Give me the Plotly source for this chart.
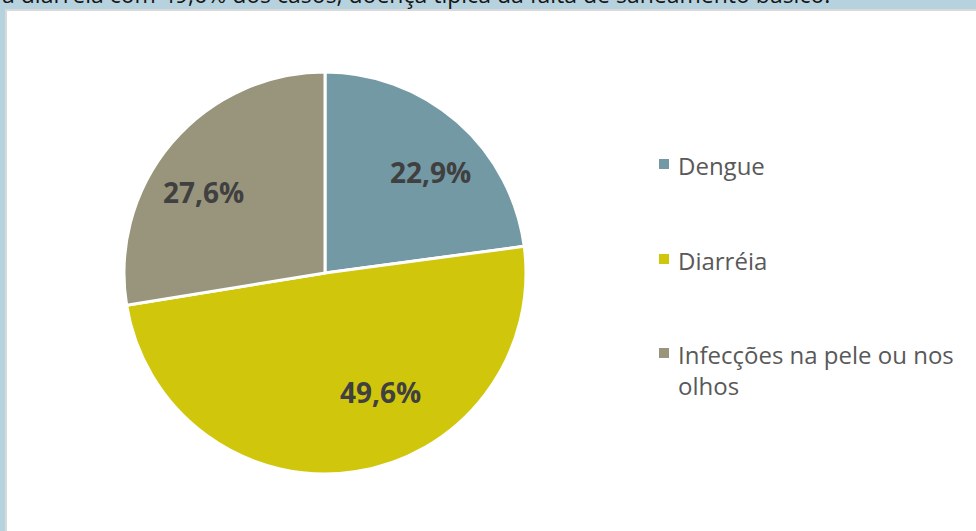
import plotly.graph_objects as go

# dados
categorias = ["Dengue", "Diarréia", "Infecções na pele ou nos<br>olhos"]
valores = [22.9, 49.6, 27.6]
rotulos = ["22,9%", "49,6%", "27,6%"]
cores = ["#7399a5", "#d0c70d", "#99957c"]

titulo = "a diarréia com 49,6% dos casos, doença típica da falta de saneamento básico."

W, H = 976, 531
FONTE = "Open Sans, DejaVu Sans, sans-serif"

# centro e raio da pizza em pixels
CX, CY, R = 325, 273, 201
# posição dos rótulos (deslocamento em px a partir do centro)
pos_rotulos = [(105, -101), (55, 119), (-122, -81)]


def px(x, y):
    """pixels (a partir do canto superior esquerdo) -> coordenadas paper"""
    return x / W, (H - y) / H


fig = go.Figure()

fig.add_trace(go.Pie(
    labels=categorias,
    values=valores,
    textinfo="none",
    sort=False,
    direction="clockwise",
    rotation=0,
    marker=dict(colors=cores, line=dict(color="white", width=3)),
    domain=dict(x=[(CX - R) / W, (CX + R) / W], y=[(H - CY - R) / H, (H - CY + R) / H]),
    showlegend=False,
    hoverinfo="skip",
))

# rótulos de porcentagem
for txt, (dx, dy) in zip(rotulos, pos_rotulos):
    x, y = px(CX + dx, CY + dy)
    fig.add_annotation(text=f"<b>{txt}</b>", xref="paper", yref="paper", x=x, y=y,
                       xanchor="center", yanchor="middle", showarrow=False,
                       font=dict(family=FONTE, size=28, color="#404040"))

# moldura: faixa azul clara no topo e na esquerda
fig.add_shape(type="rect", xref="paper", yref="paper",
              x0=0, x1=1, y0=0, y1=1, fillcolor="#b6d2de", line_width=0, layer="below")
fig.add_shape(type="rect", xref="paper", yref="paper",
              x0=5 / W, x1=1, y0=0, y1=(H - 9) / H, fillcolor="#d9d9d9", line_width=0, layer="below")
fig.add_shape(type="rect", xref="paper", yref="paper",
              x0=7 / W, x1=1, y0=0, y1=(H - 11) / H, fillcolor="white", line_width=0, layer="below")

# título cortado no topo (como na imagem original)
fig.add_annotation(text=titulo, xref="paper", yref="paper", x=0, y=(H - 12) / H,
                   xanchor="left", yanchor="bottom", showarrow=False,
                   font=dict(family=FONTE, size=23, color="#151515"))

# legenda manual
leg_y = [164, 259, 353]
for nome, cor, yy in zip(categorias, cores, leg_y):
    fig.add_shape(type="rect", xref="paper", yref="paper",
                  x0=659 / W, x1=669 / W, y0=(H - yy - 5) / H, y1=(H - yy + 5) / H,
                  fillcolor=cor, line_width=0)
    fig.add_annotation(text=nome, xref="paper", yref="paper", x=676 / W, y=(H - yy + 17) / H,
                       xanchor="left", yanchor="top", align="left", showarrow=False,
                       font=dict(family=FONTE, size=24, color="#595959"))

fig.update_layout(
    width=W, height=H,
    margin=dict(l=0, r=0, t=0, b=0),
    paper_bgcolor="white",
    plot_bgcolor="white",
)

# tira a margem padrão do <body> para a figura encostar no canto da janela
fig.write_html("out.html", config={"displayModeBar": False},
               post_script="document.body.style.margin='0';")
